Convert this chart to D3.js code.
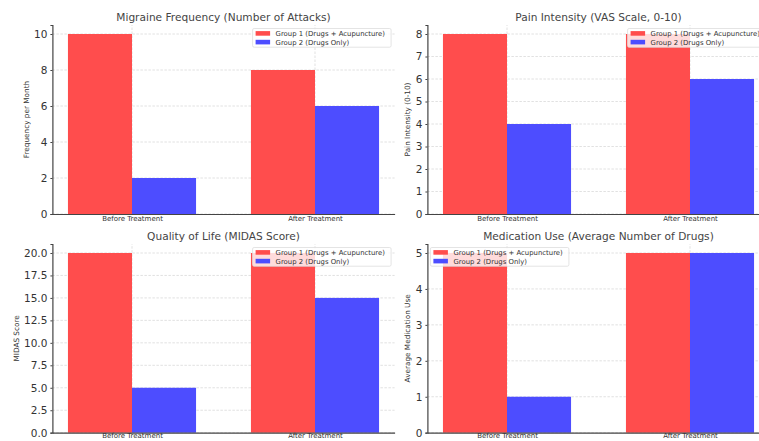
<!DOCTYPE html>
<html><head><meta charset="utf-8">
<script src="https://cdn.jsdelivr.net/npm/d3@7"></script>
<style>
html,body{margin:0;padding:0;background:#fff;}
svg{display:block;font-family:"DejaVu Sans",sans-serif;}
</style></head>
<body>
<svg id="c" width="759" height="441"></svg>
<script>
const categories = ["Before Treatment", "After Treatment"];
const seriesNames = ["Group 1 (Drugs + Acupuncture)", "Group 2 (Drugs Only)"];
const seriesColors = ["#ff4d4d", "#4d4dff"];

const titles = ["Migraine Frequency (Number of Attacks)", "Pain Intensity (VAS Scale, 0-10)",
                "Quality of Life (MIDAS Score)", "Medication Use (Average Number of Drugs)"];
const yLabels = ["Frequency per Month", "Pain Intensity (0-10)", "MIDAS Score", "Average Medication Use"];

const freqG1 = [10, 8], freqG2 = [2, 6];
const painG1 = [8, 8], painG2 = [4, 6];
const midasG1 = [20, 20], midasG2 = [5, 15];
const medsG1 = [5, 5], medsG2 = [1, 5];

const yTicks1 = [0, 2, 4, 6, 8, 10];
const yTicks2 = [0, 1, 2, 3, 4, 5, 6, 7, 8];
const yTicks3 = [0, 2.5, 5, 7.5, 10, 12.5, 15, 17.5, 20];
const yTicks4 = [0, 1, 2, 3, 4, 5];

const panels = [
  {g1: freqG1, g2: freqG2, ticks: yTicks1, ymax: 10.5, fmt: d3.format("d"), x0: 52.4, x1: 394.6, y0: 214, y1: 25, legend: "right", xpad: 2.2},
  {g1: painG1, g2: painG2, ticks: yTicks2, ymax: 8.4, fmt: d3.format("d"), x0: 427.4, x1: 769.6, y0: 214, y1: 25, legend: "right", xpad: 2.2},
  {g1: midasG1, g2: midasG2, ticks: yTicks3, ymax: 21, fmt: d3.format(".1f"), x0: 52.4, x1: 394.6, y0: 432.7, y1: 244, legend: "right", xpad: 0.8},
  {g1: medsG1, g2: medsG2, ticks: yTicks4, ymax: 5.25, fmt: d3.format("d"), x0: 427.4, x1: 769.6, y0: 432.7, y1: 244, legend: "left", xpad: 0.8}
];

const barW = 0.35;
const svg = d3.select("#c");

panels.forEach((p, i) => {
  const x = d3.scaleLinear().domain([-0.435, 1.435]).range([p.x0, p.x1]);
  const y = d3.scaleLinear().domain([0, p.ymax]).range([p.y0, p.y1]);
  const g = svg.append("g");

  // grid
  g.append("g").selectAll("line").data(p.ticks).join("line")
    .attr("x1", p.x0).attr("x2", p.x1).attr("y1", d => y(d)).attr("y2", d => y(d))
    .attr("stroke", "#d9d9d9").attr("stroke-width", 0.8).attr("stroke-dasharray", "2.5,1.5");
  g.append("g").selectAll("line").data(categories.map((c, k) => k)).join("line")
    .attr("x1", d => x(d)).attr("x2", d => x(d)).attr("y1", p.y0).attr("y2", p.y1)
    .attr("stroke", "#d9d9d9").attr("stroke-width", 0.8).attr("stroke-dasharray", "2.5,1.5");

  // bars
  [p.g1, p.g2].forEach((vals, s) => {
    g.append("g").selectAll("rect").data(vals).join("rect")
      .attr("x", (d, k) => x(k + (s === 0 ? -barW : 0)))
      .attr("width", x(barW) - x(0))
      .attr("y", d => y(d))
      .attr("height", d => y(0) - y(d))
      .attr("fill", seriesColors[s]);
  });

  // y axis
  const ya = g.append("g").attr("transform", `translate(${p.x0},0)`)
    .call(d3.axisLeft(y).tickValues(p.ticks).tickFormat(p.fmt).tickSize(2).tickPadding(3));
  ya.select(".domain").attr("stroke", "#444").attr("stroke-width", 1.2);
  ya.selectAll(".tick line").attr("stroke", "#444");
  ya.selectAll("text").attr("font-size", "10.5px").attr("fill", "#333").attr("font-family", "DejaVu Sans");
  let maxW = 0;
  ya.selectAll("text").each(function () { maxW = Math.max(maxW, this.getBBox().width); });

  // x axis
  const xa = g.append("g").attr("transform", `translate(0,${p.y0})`)
    .call(d3.axisBottom(x).tickValues([0, 1]).tickFormat(k => categories[k]).tickSize(0).tickPadding(p.xpad));
  xa.select(".domain").attr("stroke", "#444").attr("stroke-width", 1.2);
  xa.selectAll("text").attr("font-size", "7px").attr("fill", "#333").attr("font-family", "DejaVu Sans");

  // title
  g.append("text").attr("x", (p.x0 + p.x1) / 2).attr("y", p.y1 - 4)
    .attr("text-anchor", "middle").attr("font-size", "10.6px").attr("fill", "#444")
    .text(titles[i]);

  // y label
  g.append("text").attr("transform", `translate(${p.x0 - maxW - 10.5},${(p.y0 + p.y1) / 2}) rotate(-90)`)
    .attr("text-anchor", "middle").attr("font-size", "7.3px").attr("fill", "#333")
    .text(yLabels[i]);

  // legend
  const lw = 138.5, lh = 18.7;
  const lx = p.legend === "right" ? p.x1 - 3.5 - lw : p.x0 + 3;
  const ly = p.y1 + 3.5;
  const lg = g.append("g").attr("transform", `translate(${lx},${ly})`);
  lg.append("rect").attr("width", lw).attr("height", lh).attr("rx", 1.5)
    .attr("fill", "#fff").attr("fill-opacity", 0.8).attr("stroke", "#ddd").attr("stroke-width", 0.8);
  seriesNames.forEach((n, s) => {
    lg.append("rect").attr("x", 3).attr("y", 2.6 + s * 8.7).attr("width", 14.5).attr("height", 4.6)
      .attr("fill", seriesColors[s]);
    lg.append("text").attr("x", 23).attr("y", 4.9 + s * 8.7).attr("dy", "0.35em")
      .attr("font-size", "6.9px").attr("fill", "#333").text(n);
  });
});
</script>
</body></html>
